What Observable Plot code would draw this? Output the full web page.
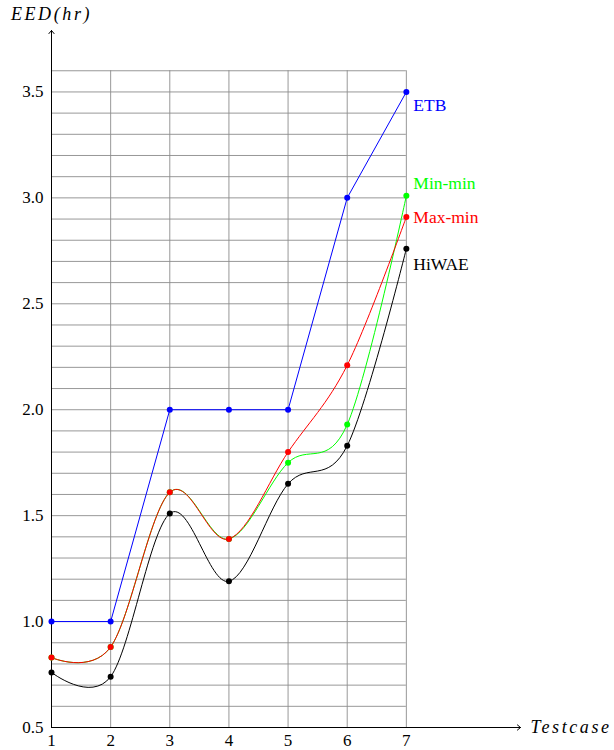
<!DOCTYPE html>
<html>
<head>
<meta charset="utf-8">
<script src="https://cdn.jsdelivr.net/npm/d3@7"></script>
<script src="https://cdn.jsdelivr.net/npm/@observablehq/plot@0.6"></script>
<style>
  html, body { margin: 0; padding: 0; background: #fff; }
  #chart svg { display: block; }
  .axis-title text { letter-spacing: 2.6px; }
</style>
</head>
<body>
<div id="chart"></div>
<script>
// ---- data ----
const testcases = [1, 2, 3, 4, 5, 6, 7];
const etb    = [1.00, 1.00, 2.00, 2.00, 2.00, 3.00, 3.50];
const minmin = [0.83, 0.88, 1.61, 1.39, 1.75, 1.93, 3.01];
const maxmin = [0.83, 0.88, 1.61, 1.39, 1.80, 2.21, 2.91];
const hiwae  = [0.76, 0.74, 1.51, 1.19, 1.65, 1.83, 2.76];
const yTickLabels = [0.5, 1.0, 1.5, 2.0, 2.5, 3.0, 3.5];
const yGrid = [0.5, 0.6, 0.7, 0.8, 0.9, 1.0, 1.1, 1.2, 1.3, 1.4, 1.5, 1.6, 1.7, 1.8, 1.9,
               2.0, 2.1, 2.2, 2.3, 2.4, 2.5, 2.6, 2.7, 2.8, 2.9, 3.0, 3.1, 3.2, 3.3, 3.4, 3.5, 3.6];
const gridTop = 3.6;
const xAxisEnd = 8.93;
const yAxisEnd = 3.79;

const seriesNames  = ["ETB", "Min-min", "Max-min", "HiWAE"];
const seriesValues = [etb, minmin, maxmin, hiwae];
const seriesColors = ["#0000ff", "#00ff00", "#ff0000", "#000000"];
const seriesSmooth = [false, true, true, true];
const labelDy      = [13, -12, 0, 16];

const rows = (i) => testcases.map((t, j) => ({x: t, y: seriesValues[i][j]}));

const font = "'Liberation Serif', 'DejaVu Serif', serif";

const marks = [];
// grid
marks.push(Plot.ruleY(yGrid, {x1: testcases[0], x2: testcases[testcases.length - 1], stroke: "#8c8c8c", strokeWidth: 0.9}));
marks.push(Plot.ruleX(testcases, {y1: yGrid[0], y2: gridTop, stroke: "#8c8c8c", strokeWidth: 0.9}));
// axes
marks.push(Plot.arrow([0], {x1: () => 1, y1: () => 0.5, x2: () => xAxisEnd, y2: () => 0.5, stroke: "#000", strokeWidth: 1, headLength: 6, headAngle: 80, bend: 0}));
marks.push(Plot.arrow([0], {x1: () => 1, y1: () => 0.5, x2: () => 1, y2: () => yAxisEnd, stroke: "#000", strokeWidth: 1, headLength: 6, headAngle: 80, bend: 0}));
// tick labels
marks.push(Plot.text(testcases, {x: d => d, y: () => 0.5, text: d => String(d), dy: 13, fontSize: 17, fill: "#000"}));
marks.push(Plot.text(yTickLabels, {x: () => 1, y: d => d, text: d => d.toFixed(1), dx: -8, textAnchor: "end", fontSize: 17, fill: "#000"}));
// axis titles
marks.push(Plot.text(["EED(hr)"], {x: () => 1, y: () => yAxisEnd, text: d => d, dy: -16, fontSize: 18, fontStyle: "italic", fill: "#000", className: "axis-title"}));
marks.push(Plot.text(["Testcase"], {x: () => xAxisEnd, y: () => 0.5, text: d => d, dx: 10, textAnchor: "start", fontSize: 18, fontStyle: "italic", fill: "#000", className: "axis-title"}));
// series lines: ETB, Min-min, Max-min, HiWAE
[0, 1, 2, 3].forEach(i => {
  marks.push(Plot.line(rows(i), {x: "x", y: "y", stroke: seriesColors[i], strokeWidth: 1,
    curve: seriesSmooth[i] ? "cardinal" : "linear", tension: 0}));
});
[0, 1, 2, 3].forEach(i => {
  marks.push(Plot.dot(rows(i), {x: "x", y: "y", r: 3, fill: seriesColors[i], stroke: "none"}));
});
// series labels
[0, 1, 2, 3].forEach(i => {
  const last = testcases.length - 1;
  marks.push(Plot.text([seriesNames[i]], {x: () => testcases[last], y: () => seriesValues[i][last], text: d => d,
    dx: 7, dy: labelDy[i], textAnchor: "start", fontSize: 17.5, fill: seriesColors[i]}));
});

const chart = Plot.plot({
  width: 614,
  height: 750,
  marginLeft: 51,
  marginRight: 94,
  marginTop: 30,
  marginBottom: 23,
  style: {fontFamily: font, background: "#fff"},
  x: {domain: [1, xAxisEnd], axis: null},
  y: {domain: [0.5, yAxisEnd], axis: null},
  marks
});
document.getElementById("chart").appendChild(chart);
</script>
</body>
</html>
